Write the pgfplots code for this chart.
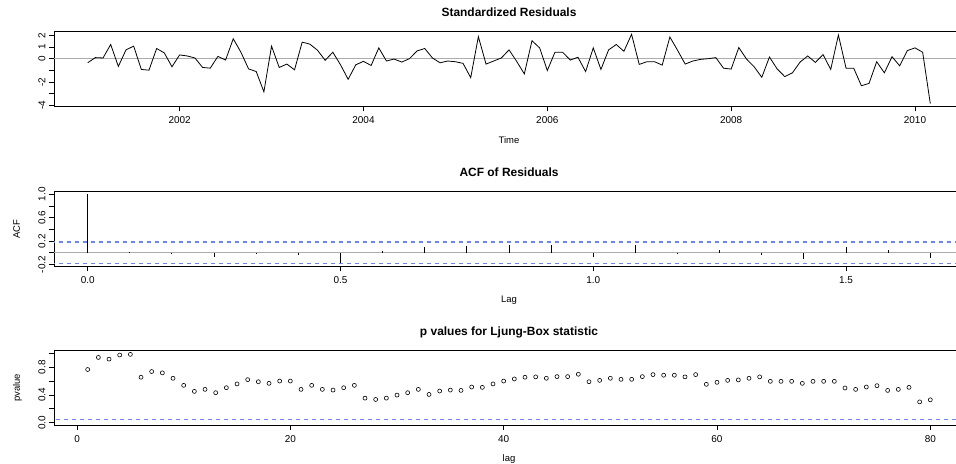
\documentclass[border=0pt]{standalone}
\usepackage{pgfplots}
\pgfplotsset{compat=1.18}
\usepackage{fontspec}
\setmainfont{Liberation Sans}
\definecolor{rblue}{RGB}{110,130,250}
\begin{document}
\begin{tikzpicture}[x=1bp,y=1bp]
\useasboundingbox (0,0) rectangle (956,464);
\clip (0,0) rectangle (956,464);
\pgfplotsset{
  rstyle/.style={
    scale only axis,
    width=910bp, height=75bp,
    anchor=south west,
    axis line style={black, line width=0.7bp},
    tick align=outside,
    tick pos=left,
    major tick length=5bp,
    tick style={black, line width=0.7bp},
    every tick label/.append style={font=\fontsize{10}{12}\selectfont},
    /pgf/number format/assume math mode=true,
    xticklabel style={yshift=-2bp},
    yticklabel style={rotate=90, anchor=south},
    title style={font=\fontsize{12}{14}\selectfont\bfseries, at={(axis description cs:0.5,1)}, anchor=base, yshift=9bp},
    every axis x label/.style={at={(axis description cs:0.5,0)}, anchor=center, yshift=-33.5bp, font=\fontsize{9.5}{11}\selectfont},
    every axis y label/.style={at={(axis description cs:-0.0374,0.5)}, rotate=90, anchor=base, font=\fontsize{9.5}{11}\selectfont},
    clip=true,
  },
  rdash/.style={color=rblue, line width=1.4bp, dash pattern=on 4bp off 4bp, forget plot},
}
% ---------------- Panel 1: standardized residuals ----------------
\begin{axis}[rstyle, at={(54bp,357.5bp)},
  title={Standardized Residuals},
  xlabel={Time},
  xmin=-4.4, xmax=114.4, ymin=-4.08, ymax=2.32,
  xtick={12,36,60,84,108}, xticklabels={2002,2004,2006,2008,2010},
  ytick={-4,-3,-2,-1,0,1,2}, yticklabels={-4,,-2,,0,1,2},
]
\addplot[gray!65, line width=1.2bp, forget plot] coordinates {(-10,0) (130,0)};
\addplot[black, line width=0.8bp] table {
i r
0 -0.35
1 0.09
2 0.06
3 1.21
4 -0.66
5 0.75
6 1.07
7 -0.92
8 -0.98
9 0.87
10 0.49
11 -0.69
12 0.32
13 0.23
14 0.06
15 -0.75
16 -0.81
17 0.20
18 -0.12
19 1.70
20 0.55
21 -0.87
22 -1.10
23 -2.83
24 1.07
25 -0.75
26 -0.46
27 -0.95
28 1.41
29 1.24
30 0.72
31 -0.14
32 0.55
33 -0.52
34 -1.76
35 -0.52
36 -0.23
37 -0.58
38 0.92
39 -0.20
40 -0.03
41 -0.29
42 0.00
43 0.66
44 0.87
45 0.06
46 -0.35
47 -0.20
48 -0.26
49 -0.40
50 -1.62
51 1.88
52 -0.46
53 -0.20
54 0.06
55 0.75
56 -0.23
57 -1.30
58 1.53
59 0.92
60 -1.01
61 0.55
62 0.55
63 -0.12
64 0.12
65 -1.10
66 0.92
67 -0.92
68 0.75
69 1.21
70 0.63
71 2.08
72 -0.49
73 -0.26
74 -0.26
75 -0.55
76 1.85
77 0.72
78 -0.46
79 -0.20
80 -0.06
81 0.00
82 0.09
83 -0.81
84 -0.89
85 0.95
86 -0.03
87 -0.69
88 -1.59
89 0.14
90 -0.87
91 -1.53
92 -1.21
93 -0.29
94 0.23
95 -0.32
96 0.35
97 -0.92
98 2.02
99 -0.81
100 -0.81
101 -2.31
102 -2.11
103 -0.26
104 -1.21
105 0.17
106 -0.61
107 0.69
108 0.92
109 0.55
110 -3.84
};
\end{axis}
% ---------------- Panel 2: ACF ----------------
\begin{axis}[rstyle, at={(54bp,197.5bp)},
  title={ACF of Residuals},
  xlabel={Lag}, ylabel={ACF},
  xmin=-0.8, xmax=20.8, ymin=-0.234, ymax=1.047,
  xtick={0,6,12,18}, xticklabels={0.0,0.5,1.0,1.5},
  ytick={-0.2,0,0.2,0.4,0.6,0.8,1.0}, yticklabels={-0.2,,0.2,,0.6,,1.0},
]
\addplot[gray!65, line width=1.2bp, forget plot] coordinates {(-2,0) (25,0)};
\addplot[rdash] coordinates {(-2,0.186) (25,0.186)};
\addplot[rdash] coordinates {(-2,-0.186) (25,-0.186)};
\addplot[black, line width=1bp, ycomb] table {
k acf
0 1.0
1 0.02
2 -0.02
3 -0.07
4 -0.01
5 -0.03
6 -0.18
7 0.035
8 0.10
9 0.12
10 0.125
11 0.125
12 -0.08
13 0.125
14 -0.01
15 0.055
16 -0.03
17 -0.11
18 0.10
19 0.055
20 -0.09
};
\end{axis}
% ---------------- Panel 3: Ljung-Box p values ----------------
\begin{axis}[rstyle, at={(54bp,38.5bp)},
  title={p values for Ljung-Box statistic},
  xlabel={lag}, ylabel={pvalue},
  xmin=-2.16, xmax=83.16, ymin=-0.04, ymax=1.04,
  xtick={0,20,40,60,80}, xticklabels={0,20,40,60,80},
  ytick={0,0.2,0.4,0.6,0.8,1.0}, yticklabels={0.0,,0.4,,0.8,},
]
\addplot[rdash] coordinates {(-5,0.05) (90,0.05)};
\addplot[only marks, mark=o, mark size=2bp, mark options={black, line width=0.6bp}] table {
lag p
1 0.766
2 0.940
3 0.916
4 0.975
5 0.984
6 0.655
7 0.737
8 0.718
9 0.640
10 0.538
11 0.451
12 0.480
13 0.432
14 0.504
15 0.558
16 0.620
17 0.590
18 0.567
19 0.600
20 0.600
21 0.480
22 0.538
23 0.480
24 0.470
25 0.504
26 0.538
27 0.354
28 0.335
29 0.354
30 0.398
31 0.432
32 0.480
33 0.407
34 0.456
35 0.470
36 0.465
37 0.514
38 0.509
39 0.558
40 0.600
41 0.630
42 0.655
43 0.660
44 0.640
45 0.664
46 0.664
47 0.698
48 0.590
49 0.610
50 0.640
51 0.625
52 0.625
53 0.664
54 0.693
55 0.684
56 0.684
57 0.660
58 0.693
59 0.553
60 0.582
61 0.610
62 0.616
63 0.640
64 0.660
65 0.596
66 0.596
67 0.596
68 0.567
69 0.596
70 0.596
71 0.596
72 0.500
73 0.480
74 0.514
75 0.533
76 0.465
77 0.480
78 0.509
79 0.300
80 0.330
};
\end{axis}
\end{tikzpicture}
\end{document}
